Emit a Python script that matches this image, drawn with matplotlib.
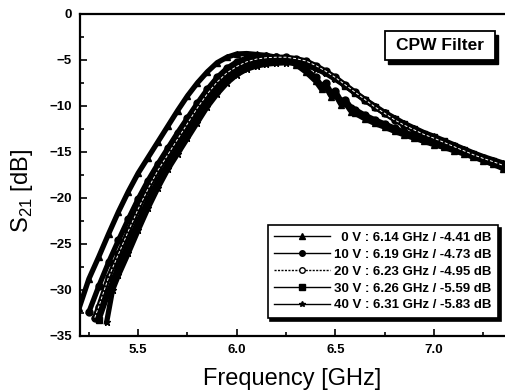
import matplotlib
matplotlib.use("Agg")
import matplotlib.pyplot as plt
from matplotlib.lines import Line2D
from matplotlib.patches import Rectangle
from matplotlib.ticker import MultipleLocator

plt.rcParams['font.family'] = ['Liberation Sans', 'DejaVu Sans']
plt.rcParams['mathtext.fontset'] = 'custom'
plt.rcParams['mathtext.rm'] = 'Liberation Sans'

# --- data (frequency in GHz, S21 in dB) ---
f_0v = [5.20, 5.25, 5.30, 5.35, 5.40, 5.45, 5.50, 5.55, 5.60, 5.65, 5.70, 5.75,
        5.80, 5.85, 5.90, 5.95, 6.00, 6.05, 6.10, 6.15, 6.20, 6.25, 6.30, 6.35,
        6.40, 6.43, 6.45, 6.48, 6.50, 6.53, 6.55, 6.58, 6.60, 6.65, 6.70, 6.75,
        6.80, 6.85, 6.90, 6.95, 7.00, 7.05, 7.10, 7.15, 7.20, 7.25, 7.30, 7.35]
s_0v = [-32.0, -28.8, -26.4, -23.9, -21.5, -19.3, -17.3, -15.6, -13.9, -12.2, -10.5, -8.9,
        -7.5, -6.3, -5.3, -4.7, -4.35, -4.3, -4.4, -4.5, -4.7, -5.0, -5.5, -6.3,
        -7.3, -8.2, -7.9, -9.0, -8.8, -9.9, -9.7, -10.6, -10.8, -11.4, -11.9, -12.3,
        -12.75, -13.15, -13.5, -13.85, -14.2, -14.5, -14.85, -15.2, -15.55, -15.95, -16.35, -16.8]

f_10v = [5.25, 5.30, 5.35, 5.40, 5.45, 5.50, 5.55, 5.60, 5.65, 5.70, 5.75, 5.80,
         5.85, 5.90, 5.95, 6.00, 6.05, 6.10, 6.15, 6.20, 6.25, 6.30, 6.35, 6.40,
         6.43, 6.45, 6.48, 6.50, 6.53, 6.55, 6.58, 6.60, 6.65, 6.70, 6.75, 6.80,
         6.85, 6.90, 6.95, 7.00, 7.05, 7.10, 7.15, 7.20, 7.25, 7.30, 7.35]
s_10v = [-32.4, -29.6, -27.0, -24.6, -22.3, -20.1, -18.1, -16.3, -14.6, -12.9, -11.3, -9.7,
         -8.2, -6.9, -5.9, -5.2, -4.8, -4.6, -4.6, -4.7, -4.9, -5.3, -6.0, -6.9,
         -7.8, -7.5, -8.6, -8.4, -9.5, -9.3, -10.2, -10.4, -11.0, -11.5, -11.95, -12.4,
         -12.85, -13.2, -13.55, -13.9, -14.3, -14.65, -15.0, -15.4, -15.8, -16.2, -16.6]

f_20v = [5.28, 5.30, 5.35, 5.40, 5.45, 5.50, 5.55, 5.60, 5.65, 5.70, 5.75, 5.80,
         5.85, 5.90, 5.95, 6.00, 6.05, 6.10, 6.15, 6.20, 6.25, 6.30, 6.35, 6.40,
         6.45, 6.50, 6.55, 6.60, 6.65, 6.70, 6.75, 6.80, 6.85, 6.90, 6.95, 7.00,
         7.05, 7.10, 7.15, 7.20, 7.25, 7.30, 7.35]
s_20v = [-33.0, -31.8, -28.6, -26.1, -23.6, -21.2, -19.0, -17.0, -15.3, -13.6, -11.9, -10.2,
         -8.7, -7.4, -6.4, -5.7, -5.2, -4.9, -4.75, -4.7, -4.7, -4.85, -5.1, -5.6,
         -6.2, -6.9, -7.7, -8.5, -9.3, -10.1, -10.8, -11.5, -12.1, -12.6, -13.1, -13.5,
         -13.95, -14.4, -14.85, -15.3, -15.7, -16.05, -16.45]

f_30v = [5.30, 5.35, 5.40, 5.45, 5.50, 5.55, 5.60, 5.65, 5.70, 5.75, 5.80, 5.85,
         5.90, 5.95, 6.00, 6.05, 6.10, 6.15, 6.20, 6.25, 6.30, 6.35, 6.40, 6.45,
         6.50, 6.55, 6.60, 6.65, 6.70, 6.75, 6.80, 6.85, 6.90, 6.95, 7.00, 7.05,
         7.10, 7.15, 7.20, 7.25, 7.30, 7.35]
s_30v = [-33.3, -30.2, -27.4, -24.9, -22.5, -20.2, -18.1, -16.25, -14.55, -12.85, -11.15, -9.5,
         -8.1, -7.0, -6.2, -5.65, -5.35, -5.15, -5.05, -5.0, -5.05, -5.3, -5.75, -6.3,
         -7.0, -7.8, -8.6, -9.4, -10.1, -10.8, -11.4, -12.0, -12.5, -13.0, -13.4, -13.85,
         -14.3, -14.75, -15.2, -15.6, -15.95, -16.3]

f_40v = [5.34, 5.37, 5.40, 5.45, 5.50, 5.55, 5.60, 5.65, 5.70, 5.75, 5.80, 5.85,
         5.90, 5.95, 6.00, 6.05, 6.10, 6.15, 6.20, 6.25, 6.30, 6.35, 6.40, 6.45,
         6.50, 6.55, 6.60, 6.65, 6.70, 6.75, 6.80, 6.85, 6.90, 6.95, 7.00, 7.05,
         7.10, 7.15, 7.20, 7.25, 7.30, 7.35]
s_40v = [-33.5, -30.0, -28.4, -26.0, -23.5, -21.1, -18.9, -16.9, -15.2, -13.5, -11.8, -10.1,
         -8.7, -7.5, -6.6, -6.0, -5.65, -5.45, -5.35, -5.3, -5.35, -5.55, -5.95, -6.45,
         -7.1, -7.8, -8.6, -9.3, -10.0, -10.7, -11.3, -11.9, -12.4, -12.9, -13.3, -13.75,
         -14.2, -14.65, -15.1, -15.5, -15.85, -16.2]

freqs = [f_0v, f_10v, f_20v, f_30v, f_40v]
s21 = [s_0v, s_10v, s_20v, s_30v, s_40v]
volts = ['0', '10', '20', '30', '40']
peak_f = ['6.14', '6.19', '6.23', '6.26', '6.31']
peak_db = ['-4.41', '-4.73', '-4.95', '-5.59', '-5.83']
markers = ['^', 'o', 'o', 's', '*']
faces = ['black', 'black', 'white', 'black', 'black']

fig = plt.figure(figsize=(5.05, 3.91), dpi=100)
ax = fig.add_axes([80/505, 1 - 336/391, 1 - 80/505, (336 - 14)/391])

for i in range(5):
    ax.plot(freqs[i], s21[i], color='black', lw=3.8, marker=markers[i],
            ms=5, mfc='black', mec='black', zorder=3)
# white core of the open-circle trace
ax.plot(f_20v, s_20v, color='white', lw=0.7, ls=(0, (3, 2)), zorder=4)

ax.set_xlim(5.205, 7.36)
ax.set_ylim(-35, 0)
ax.xaxis.set_major_locator(MultipleLocator(0.5))
ax.xaxis.set_minor_locator(MultipleLocator(0.25))
ax.yaxis.set_major_locator(MultipleLocator(5))
ax.yaxis.set_minor_locator(MultipleLocator(2.5))
ax.set_xticks([5.5, 6.0, 6.5, 7.0])
ax.set_xticklabels(['5.5', '6.0', '6.5', '7.0'])
ax.tick_params(which='both', direction='in', width=1.2)
ax.tick_params(which='major', length=5, labelsize=9.5, pad=6)
ax.tick_params(which='minor', length=3)
for lab in ax.get_xticklabels() + ax.get_yticklabels():
    lab.set_fontweight('bold')

for s in ['left', 'bottom', 'top']:
    ax.spines[s].set_linewidth(1.6)
ax.spines['right'].set_visible(False)

ax.set_xlabel('Frequency [GHz]', fontsize=17)
ax.xaxis.set_label_coords(0.5, -0.10)
ax.set_ylabel('S$_{21}$ [dB]', fontsize=17)
ax.yaxis.set_label_coords(-0.105, 0.45)

# CPW Filter box with black drop shadow
bx0, bx1 = (385 - 80) / 425, (495 - 80) / 425
by0, by1 = (336 - 60) / 322, (336 - 31) / 322
ax.add_patch(Rectangle((bx0 + 0.008, by0 - 0.012), bx1 - bx0, by1 - by0,
                       transform=ax.transAxes, fc='black', ec='black', zorder=5))
ax.add_patch(Rectangle((bx0, by0), bx1 - bx0, by1 - by0, transform=ax.transAxes,
                       fc='white', ec='black', lw=1.3, zorder=6))
ax.text((bx0 + bx1) / 2, (by0 + by1) / 2, 'CPW Filter', transform=ax.transAxes,
        fontsize=12.5, fontweight='bold', ha='center', va='center', zorder=7)

handles = []
for i in range(5):
    ls = (0, (1.5, 1)) if i == 2 else '-'
    handles.append(Line2D([], [], color='black', lw=1.0, ls=ls, marker=markers[i],
                          ms=4, mfc=faces[i], mec='black'))
labels = []
for i in range(5):
    pad = '  ' if len(volts[i]) == 1 else ''
    labels.append(pad + volts[i] + ' V : ' + peak_f[i] + ' GHz / ' + peak_db[i] + ' dB')

leg = ax.legend(handles, labels, loc='lower right', bbox_to_anchor=(0.983, 0.056),
                borderaxespad=0, fancybox=False, shadow={'color': 'black', 'alpha': 1},
                framealpha=1, edgecolor='black', handlelength=4.2, handletextpad=0.3,
                labelspacing=0.35, borderpad=0.5,
                prop={'weight': 'bold', 'size': 9.5})
leg.get_frame().set_linewidth(1.2)

fig.savefig('out.png', dpi=100)
